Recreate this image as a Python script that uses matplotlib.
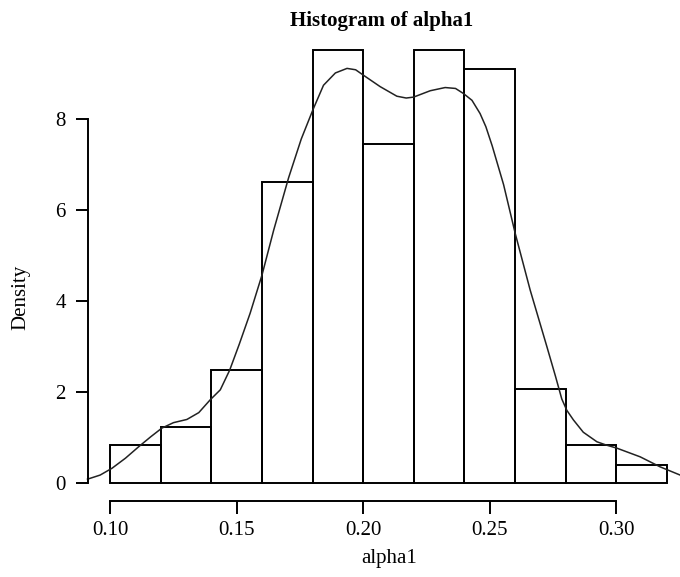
import matplotlib
matplotlib.use('Agg')
import matplotlib.pyplot as plt
import numpy as np

# histogram of alpha1 (density scale), bin width 0.02
bin_edges = [0.10, 0.12, 0.14, 0.16, 0.18, 0.20, 0.22, 0.24, 0.26, 0.28, 0.30, 0.32]
density = [0.83, 1.24, 2.48, 6.61, 9.50, 7.44, 9.50, 9.09, 2.07, 0.83, 0.41]

# kernel density curve
kde_x = [0.0910, 0.0960, 0.1007, 0.1060, 0.1112, 0.1160, 0.1204, 0.1250, 0.1303, 0.1350,
         0.1395, 0.1435, 0.1472, 0.1510, 0.1553, 0.1600, 0.1646, 0.1705, 0.1755, 0.1801,
         0.1843, 0.1890, 0.1936, 0.1970, 0.2001, 0.2067, 0.2133, 0.2170, 0.2199, 0.2265,
         0.2324, 0.2365, 0.2396, 0.2430, 0.2462, 0.2485, 0.2510, 0.2555, 0.2601, 0.2660,
         0.2726, 0.2760, 0.2785, 0.2805, 0.2831, 0.2870, 0.2924, 0.2960, 0.3003, 0.3095,
         0.3174, 0.3253]
kde_y = [0.09, 0.18, 0.33, 0.55, 0.80, 1.02, 1.21, 1.33, 1.40, 1.55,
         1.83, 2.05, 2.48, 3.05, 3.73, 4.57, 5.55, 6.70, 7.55, 8.19,
         8.73, 9.00, 9.10, 9.07, 8.95, 8.70, 8.49, 8.45, 8.47, 8.61,
         8.68, 8.66, 8.55, 8.40, 8.11, 7.82, 7.40, 6.55, 5.48, 4.24,
         3.00, 2.35, 1.85, 1.60, 1.39, 1.12, 0.91, 0.84, 0.77, 0.58,
         0.36, 0.18]

xticks = [0.10, 0.15, 0.20, 0.25, 0.30]
xtick_labels = ['0.10', '0.15', '0.20', '0.25', '0.30']
yticks = [0, 2, 4, 6, 8]

plt.rcParams['font.family'] = ['Liberation Serif', 'DejaVu Serif']

fig = plt.figure(figsize=(6.8, 5.77), dpi=100)
ax = fig.add_axes([88/680, 0.1324, 601/680, 0.8107])

ax.bar(bin_edges[:-1], density, width=np.diff(bin_edges), align='edge',
       fill=False, edgecolor='black', linewidth=1.4)
ax.plot(kde_x, kde_y, color='#222222', linewidth=1.1, clip_on=False)

ax.set_xlim(0.0912, 0.3288)
ax.set_ylim(-0.38, 9.88)

for s in ['top', 'right']:
    ax.spines[s].set_visible(False)
ax.spines['left'].set_bounds(0, 8)
ax.spines['bottom'].set_bounds(0.10, 0.30)
ax.spines['left'].set_linewidth(1.4)
ax.spines['bottom'].set_linewidth(1.4)

ax.set_xticks(xticks)
ax.set_xticklabels(xtick_labels)
ax.set_yticks(yticks)
ax.tick_params(axis='both', direction='out', length=9, width=1.4, labelsize=15)
ax.tick_params(axis='x', pad=6)
ax.tick_params(axis='y', pad=7)

fig.text(382/680, 1 - 21/577, 'Histogram of alpha1', ha='center', va='center',
         fontsize=15, fontweight='bold')
fig.text(389/680, 1 - 558/577, 'alpha1', ha='center', va='center', fontsize=15)
fig.text(21/680, 1 - 297/577, 'Density', ha='center', va='center', fontsize=15,
         rotation=90)

fig.savefig('out.png', dpi=100)
